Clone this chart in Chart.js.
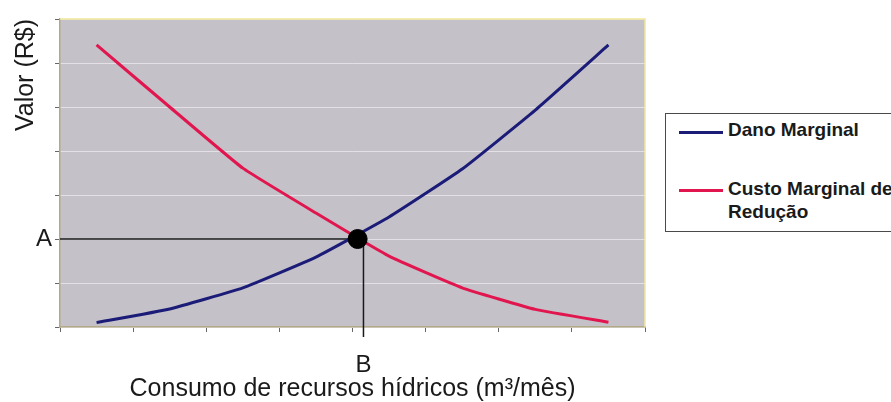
<!DOCTYPE html>
<html>
<head>
<meta charset="utf-8">
<script src="https://cdn.jsdelivr.net/npm/chart.js@4.4.1/dist/chart.umd.min.js"></script>
<style>
  html, body { margin: 0; padding: 0; background: #ffffff; overflow: hidden; }
  #wrap { position: relative; width: 891px; height: 402px; overflow: hidden; background: #ffffff; }
  #chart { position: absolute; left: 0; top: 0; }
  #legend { position: absolute; left: 665px; top: 113px; width: 260px; height: 117px;
            border: 1px solid #4a4a4a; background: #ffffff;
            font: bold 19px 'Liberation Sans', Arial, sans-serif; color: #1a1a1a; }
  .sw { position: absolute; left: 13px; width: 44px; height: 3px; }
  .tx { position: absolute; left: 62px; line-height: 23px; white-space: normal; }
</style>
</head>
<body>
<div id="wrap">
  <canvas id="chart" width="891" height="402"></canvas>
  <div id="legend"></div>
</div>
<script>
// ---- data ----
const consumo = [0, 1, 2, 3, 4, 5, 6, 7];                       // category positions (no labels shown)
const danoMarginal  = [0.10, 0.41, 0.89, 1.59, 2.50, 3.59, 4.93, 6.41];
const custoMarginal = [6.41, 5.00, 3.61, 2.59, 1.61, 0.89, 0.40, 0.11];
const seriesNames = ['Dano Marginal', 'Custo Marginal de Redução'];
const seriesColors = ['#1b1c78', '#e2164e'];
const equilibrioX = 3.57;        // intersection dot (consumption)
const valorA = 2.0;              // A level
const consumoB = 3.65;           // B level
const baseB = -0.23;             // B drop line ends just below the axis
const xTicks = [-0.5, 0.5, 1.5, 2.5, 3.5, 4.5, 5.5, 6.5, 7.5];
const yTicks = [0, 1, 2, 3, 4, 5, 6, 7];
const xTitle = 'Consumo de recursos hídricos (m³/mês)';
const yTitle = 'Valor (R$)';

const FONT = "'Liberation Sans', Arial, sans-serif";
Chart.defaults.font.family = FONT;

const pts = (xs, ys) => xs.map((x, i) => ({ x: x, y: ys[i] }));

const plotBg = {
  id: 'plotBg',
  beforeDraw(chart) {
    const { ctx, chartArea: a } = chart;
    ctx.save();
    ctx.fillStyle = '#c5c1c9';
    ctx.fillRect(a.left, a.top, a.right - a.left, a.bottom - a.top);
    ctx.restore();
  },
  beforeDatasetsDraw(chart) {
    const { ctx, chartArea: a } = chart;
    ctx.save();
    ctx.strokeStyle = '#efe69a';
    ctx.lineWidth = 1.5;
    ctx.beginPath();
    ctx.moveTo(a.left, a.top);
    ctx.lineTo(a.right, a.top);
    ctx.lineTo(a.right, a.bottom);
    ctx.stroke();
    ctx.restore();
  }
};

new Chart(document.getElementById('chart'), {
  type: 'line',
  data: {
    datasets: [
      { label: 'Equilíbrio', data: [{ x: equilibrioX, y: valorA }], showLine: false,
        pointRadius: 9.5, pointBackgroundColor: '#000000', pointBorderColor: '#000000', order: 0 },
      { label: seriesNames[0], data: pts(consumo, danoMarginal), borderColor: seriesColors[0],
        borderWidth: 3, pointRadius: 0, tension: 0.12, order: 1 },
      { label: seriesNames[1], data: pts(consumo, custoMarginal), borderColor: seriesColors[1],
        borderWidth: 3, pointRadius: 0, tension: 0.12, order: 2 },
      { label: 'A', data: [{ x: xTicks[0], y: valorA }, { x: equilibrioX, y: valorA }],
        borderColor: '#1a1a1a', borderWidth: 1.5, pointRadius: 0, order: 3 },
      { label: 'B', data: [{ x: consumoB, y: valorA }, { x: consumoB, y: baseB }],
        borderColor: '#1a1a1a', borderWidth: 1.5, pointRadius: 0, clip: false, order: 4 }
    ]
  },
  options: {
    responsive: false,
    animation: false,
    devicePixelRatio: 1,
    layout: { padding: { left: 0, top: 19, right: 246, bottom: 0 } },
    plugins: { legend: { display: false }, tooltip: { enabled: false } },
    scales: {
      x: {
        type: 'linear', min: xTicks[0], max: xTicks[xTicks.length - 1],
        afterBuildTicks: s => { s.ticks = xTicks.concat([consumoB]).map(v => ({ value: v })); },
        afterFit: s => { s.height = 75; },
        grid: { drawOnChartArea: false, tickLength: 5, lineWidth: 1,
                tickColor: c => (c.tick && c.tick.value === consumoB) ? 'rgba(0,0,0,0)' : '#666666' },
        border: { color: '#b2aa86', width: 1.5 },
        ticks: { autoSkip: false, maxRotation: 0, padding: 19, color: '#1a1a1a',
                 font: { size: 24 }, callback: v => (v === consumoB ? 'B' : '') },
        title: { display: true, text: xTitle, color: '#1a1a1a', font: { size: 25 },
                 padding: { top: 0, bottom: -2 } }
      },
      y: {
        type: 'linear', min: yTicks[0], max: yTicks[yTicks.length - 1],
        afterBuildTicks: s => { s.ticks = yTicks.map(v => ({ value: v })); },
        afterFit: s => { s.width = 60; },
        grid: { color: '#e4e0e6', lineWidth: 1, tickLength: 5, tickColor: '#666666' },
        border: { color: '#b2aa86', width: 1.5 },
        ticks: { padding: 3, color: '#1a1a1a', font: { size: 24 },
                 callback: v => (v === valorA ? 'A' : '') },
        title: { display: true, text: yTitle, align: 'end', color: '#1a1a1a', font: { size: 25 },
                 padding: { top: 11, bottom: 0 } }
      }
    }
  },
  plugins: [plotBg]
});

// legend built from the series names/colours
const lg = document.getElementById('legend');
const legendRows = [{ sw: 17, tx: 4 }, { sw: 75, tx: 63 }];
seriesNames.forEach((name, i) => {
  const sw = document.createElement('div');
  sw.className = 'sw'; sw.style.top = legendRows[i].sw + 'px'; sw.style.background = seriesColors[i];
  const tx = document.createElement('div');
  tx.className = 'tx'; tx.style.top = legendRows[i].tx + 'px'; tx.style.width = '175px';
  tx.textContent = name;
  lg.appendChild(sw); lg.appendChild(tx);
});
</script>
</body>
</html>
